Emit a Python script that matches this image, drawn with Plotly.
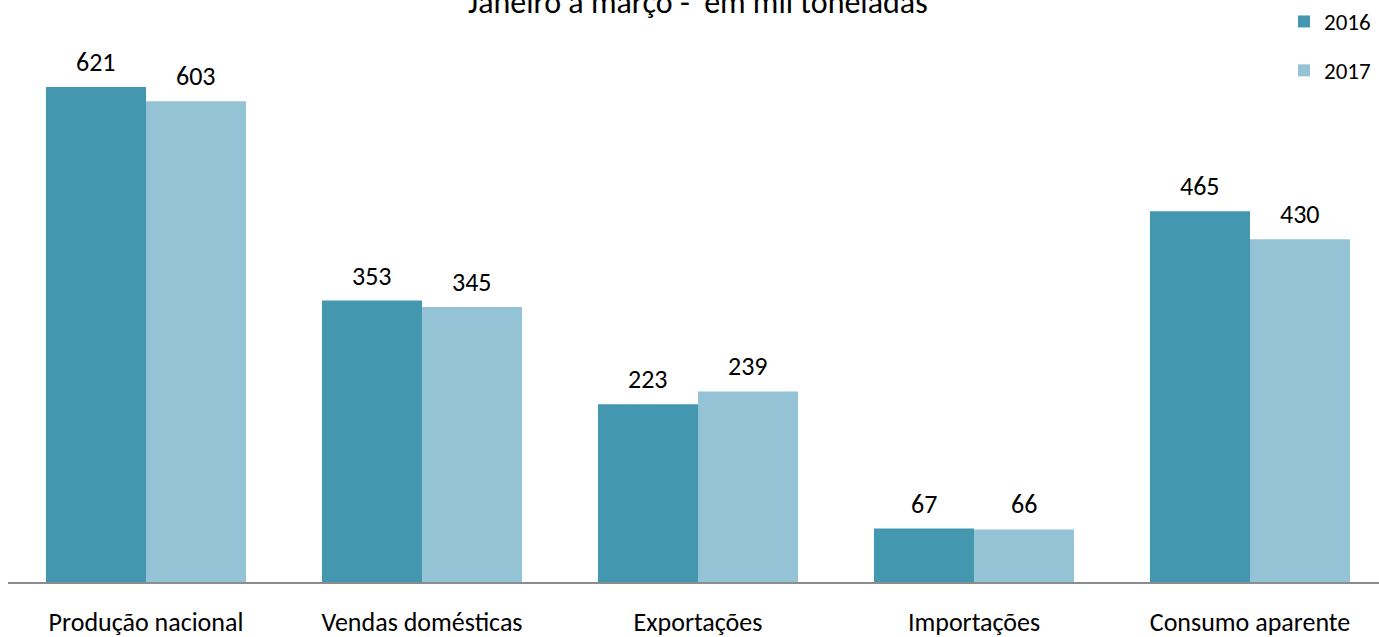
import plotly.graph_objects as go

categories = ["Produção nacional", "Vendas domésticas", "Exportações", "Importações", "Consumo aparente"]
v2016 = [621, 353, 223, 67, 465]
v2017 = [603, 345, 239, 66, 430]
series_names = ["2016", "2017"]
title_text = "Janeiro a março -  em mil toneladas"

c2016 = "#4398B0"
c2017 = "#93C3D4"
FONT = "Carlito, Lato, sans-serif"

W, H = 1379, 637

fig = go.Figure()
fig.add_bar(x=categories, y=v2016, name=series_names[0], marker_color=c2016,
            marker_line_width=0, legendgroup="a")
fig.add_bar(x=categories, y=v2017, name=series_names[1], marker_color=c2017,
            marker_line_width=0, legendgroup="b")

annotations = []
for vals, shift in ((v2016, -50), (v2017, 50)):
    for c, v in zip(categories, vals):
        annotations.append(dict(x=c, y=v, xref="x", yref="y", text=str(v), showarrow=False,
                                xshift=shift, yanchor="bottom", yshift=7,
                                font=dict(family=FONT, size=26, color="#000")))
annotations.append(dict(x=694/W, xref="paper", y=1, yref="paper", yanchor="bottom",
                        yshift=0, text=title_text, showarrow=False,
                        font=dict(family=FONT, size=32, color="#000")))

fig.update_layout(
    width=W, height=H,
    margin=dict(l=8, r=0, t=24, b=55, autoexpand=False),
    paper_bgcolor="white", plot_bgcolor="white",
    barmode="group", bargap=0.275, bargroupgap=0,
    font=dict(family=FONT, size=25, color="#000"),
    annotations=annotations,
    legend=dict(xref="container", yref="container", x=1284/W, xanchor="left",
                y=1 + 2/H, yanchor="top", traceorder="grouped",
                tracegroupgap=16, font=dict(family=FONT, size=23),
                bgcolor="rgba(0,0,0,0)", itemwidth=30),
    showlegend=True,
)
fig.update_xaxes(range=[-0.5, -0.5 + 1371/276], showline=True, linecolor="#8c8c8c",
                 linewidth=1.5, ticks="", ticklabelstandoff=16, showgrid=False,
                 automargin=False, tickfont=dict(family=FONT, size=26))
fig.update_yaxes(range=[0, 700], visible=False, showgrid=False, automargin=False)

fig.write_html("out.html", config={"displayModeBar": False},
               post_script="document.body.style.margin='0px';")
